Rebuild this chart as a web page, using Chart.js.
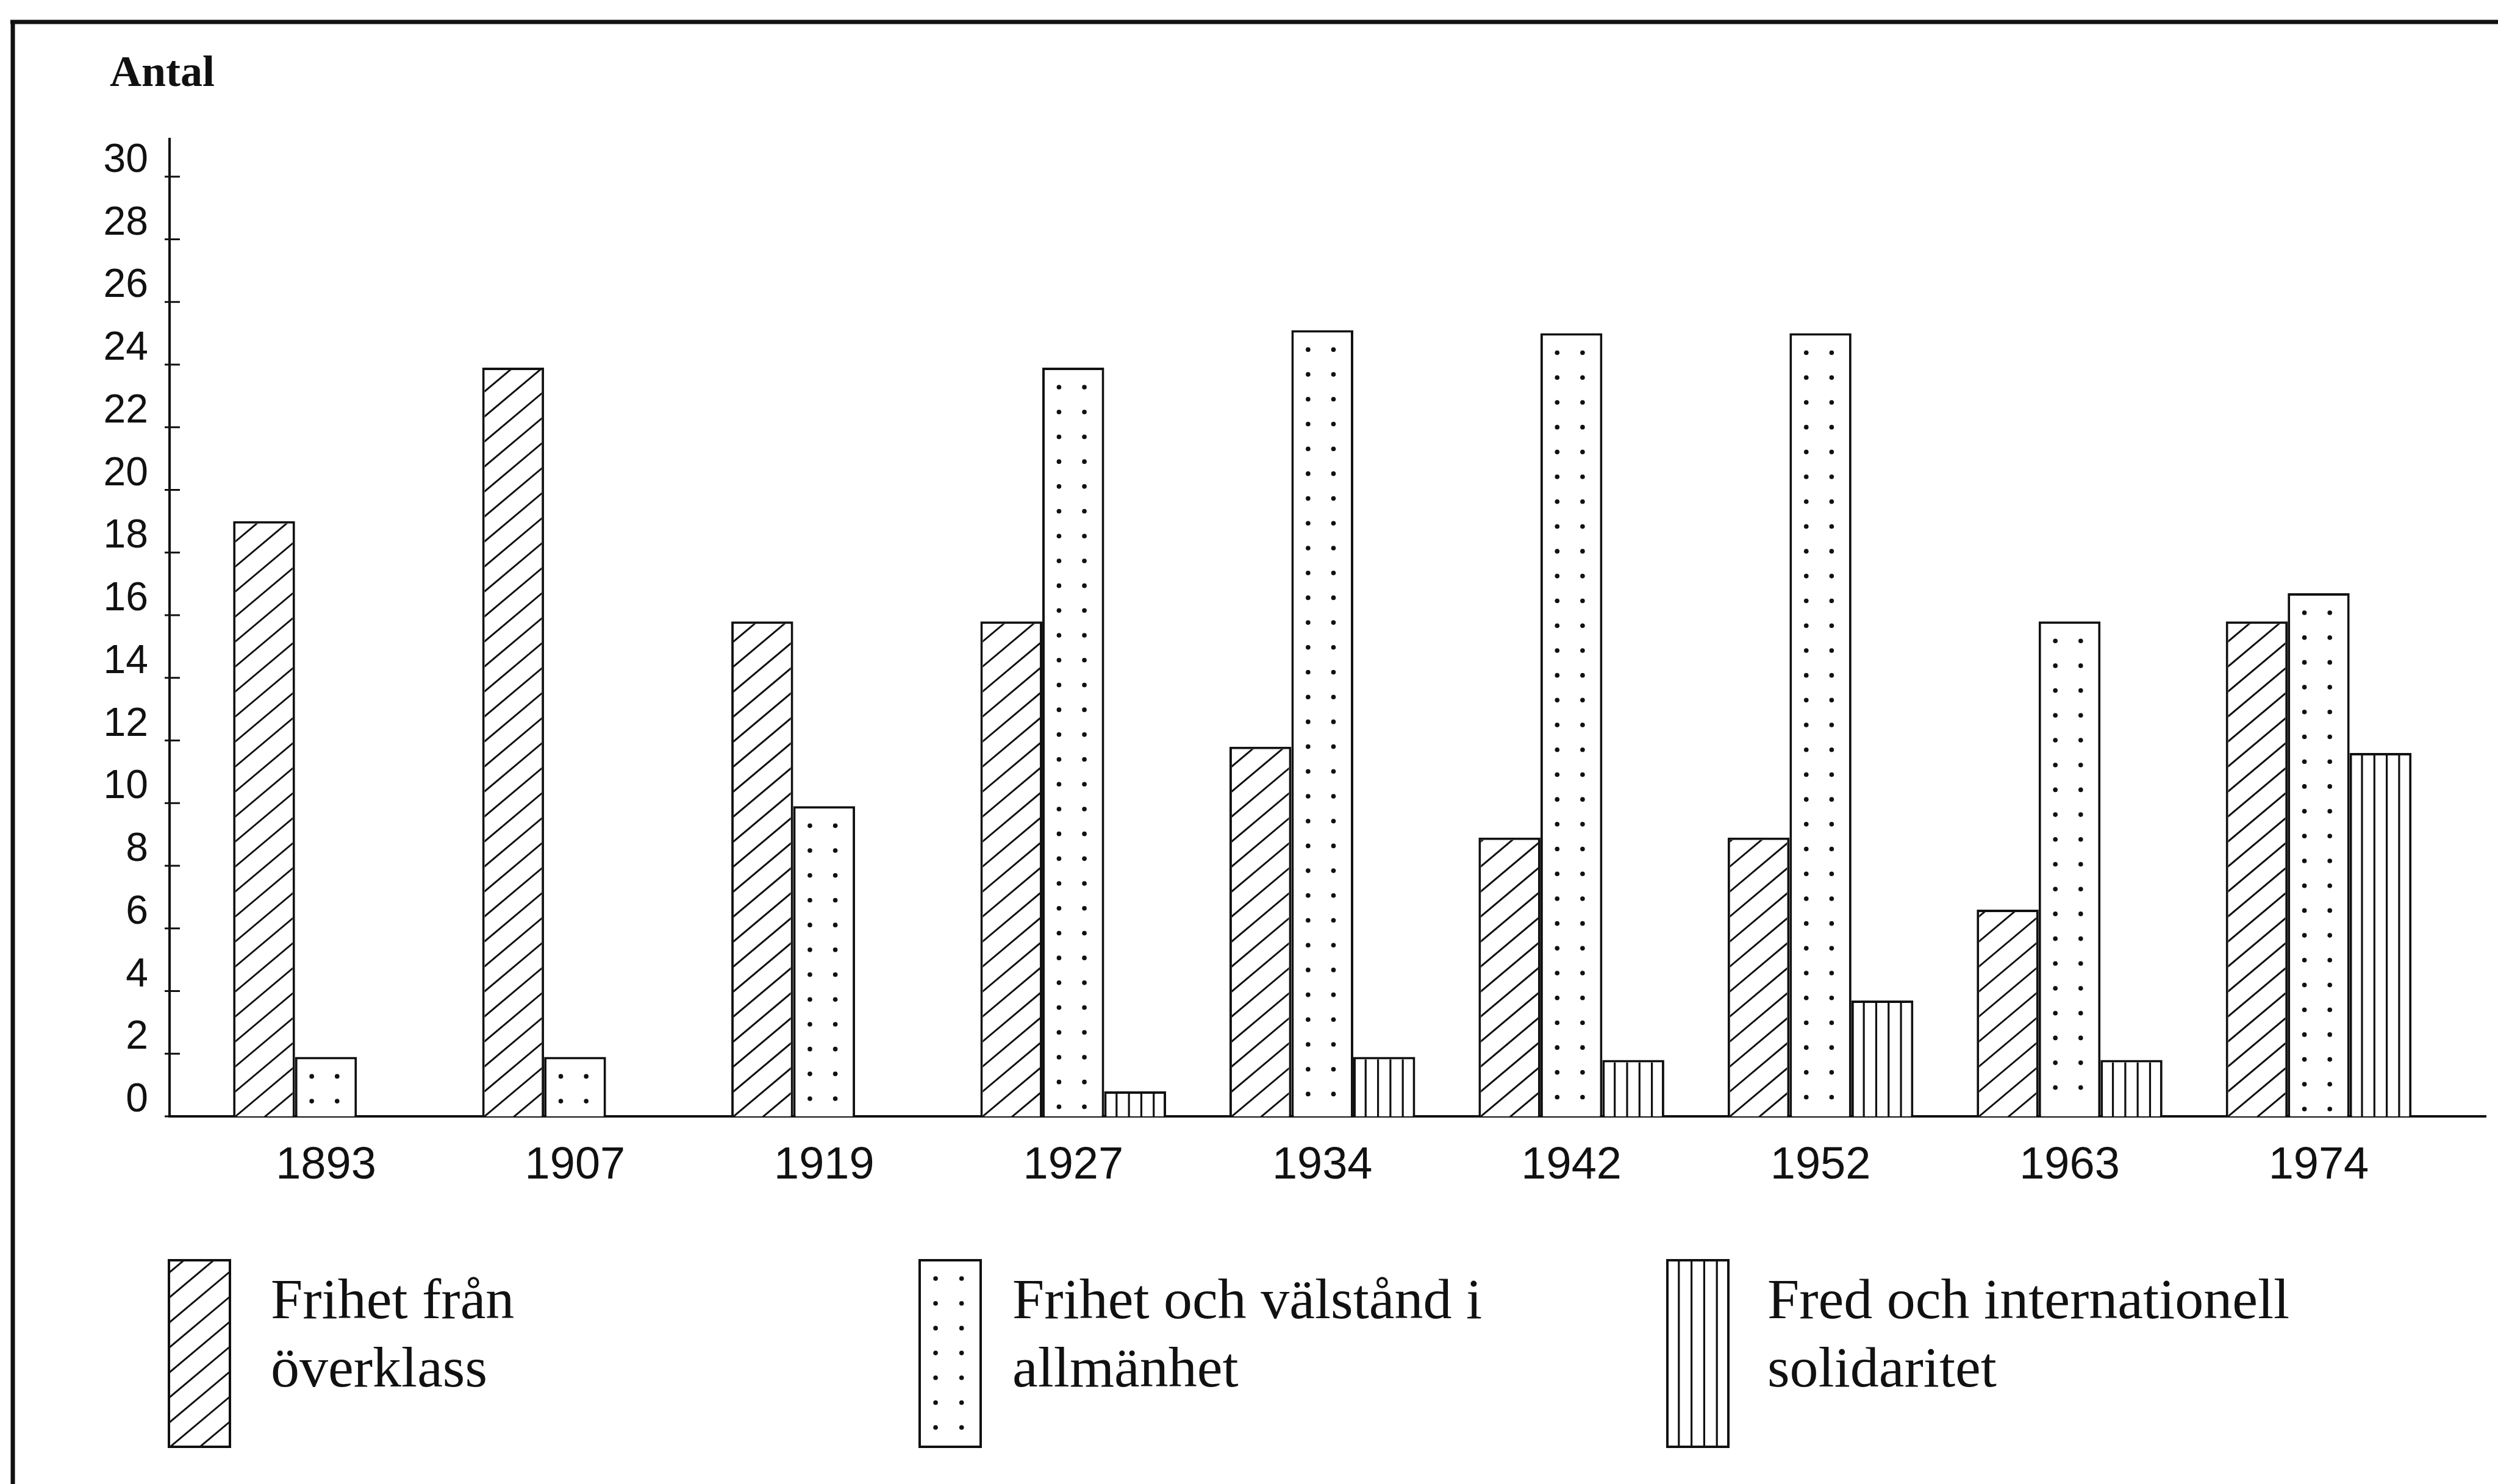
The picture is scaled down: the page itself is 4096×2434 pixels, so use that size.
<!DOCTYPE html>
<html>
<head>
<meta charset="utf-8">
<script src="https://cdn.jsdelivr.net/npm/chart.js@4.4.1/dist/chart.umd.min.js"></script>
<style>
  html, body { margin: 0; padding: 0; background: #fff; }
  #wrap { width: 4096px; height: 2434px; position: relative; }
</style>
</head>
<body>
<div id="wrap"><canvas id="chart"></canvas></div>
<script>
// values (Antal per year)
const years = ['1893', '1907', '1919', '1927', '1934', '1942', '1952', '1963', '1974'];
const fromUpperClass = [19, 23.9, 15.8, 15.8, 11.8, 8.9, 8.9, 6.6, 15.8];
const welfare = [1.9, 1.9, 9.9, 23.9, 25.1, 25, 25, 15.8, 16.7];
const peace = [null, null, null, 0.8, 1.9, 1.8, 3.7, 1.8, 11.6];
const seriesNames = [
    ['Frihet från', 'överklass'],
    ['Frihet och välstånd i', 'allmänhet'],
    ['Fred och internationell', 'solidaritet']
];

const INK = '#111';
const BORDER = 4;

// fill styles, all drawn inside a bar's outer rect (l, t, r, b)
function fillHatch(ctx, l, t, r, b) {
    const gap = 41, slope = 0.84, w = r - l;
    ctx.lineWidth = 3;
    ctx.beginPath();
    for (let y0 = b + w * slope + gap; y0 > t - gap; y0 -= gap) {
        ctx.moveTo(l, y0);
        ctx.lineTo(r, y0 - w * slope);
    }
    ctx.stroke();
}

function fillDots(ctx, l, t, r, b) {
    const w = r - l;
    const cols = [l + 0.27 * w, l + 0.68 * w];
    for (let y = t + 32; y < b - 8; y += 40.7) {
        cols.forEach(x => {
            ctx.beginPath();
            ctx.arc(x, y, 3.8, 0, Math.PI * 2);
            ctx.fill();
        });
    }
}

function fillLines(ctx, l, t, r, b) {
    const w = r - l;
    ctx.lineWidth = 3.2;
    ctx.beginPath();
    for (let k = 1; k < 5; k++) {
        const x = l + k * w / 5;
        ctx.moveTo(x, t);
        ctx.lineTo(x, b);
    }
    ctx.stroke();
}

const fills = [fillHatch, fillDots, fillLines];

function drawFill(ctx, i, l, t, r, b) {
    ctx.save();
    ctx.beginPath();
    ctx.rect(l + BORDER, t + BORDER, r - l - 2 * BORDER, b - t - BORDER);
    ctx.clip();
    ctx.strokeStyle = INK;
    ctx.fillStyle = INK;
    fills[i](ctx, l, t, r, b);
    ctx.restore();
}

const barPatterns = {
    id: 'barPatterns',
    afterDatasetsDraw(chart) {
        const ctx = chart.ctx;
        chart.data.datasets.forEach((ds, di) => {
            const meta = chart.getDatasetMeta(di);
            meta.data.forEach((bar, i) => {
                if (ds.data[i].y == null) return;
                const p = bar.getProps(['x', 'y', 'base', 'width'], true);
                drawFill(ctx, di, p.x - p.width / 2, p.y, p.x + p.width / 2, p.base);
            });
        });
    }
};

const decorations = {
    id: 'decorations',
    afterDraw(chart) {
        const ctx = chart.ctx;
        const y = chart.scales.y;
        ctx.save();
        ctx.strokeStyle = INK;
        ctx.fillStyle = INK;

        // frame at top and left
        ctx.lineWidth = 7;
        ctx.beginPath();
        ctx.moveTo(17, 36);
        ctx.lineTo(chart.width, 36);
        ctx.moveTo(21, 33);
        ctx.lineTo(21, chart.height);
        ctx.stroke();

        // tick marks crossing the y axis
        ctx.lineWidth = 3;
        ctx.beginPath();
        y.ticks.forEach(t => {
            const py = y.getPixelForValue(t.value);
            ctx.moveTo(y.right - 8, py);
            ctx.lineTo(y.right + 17, py);
        });
        ctx.stroke();

        ctx.font = 'bold 72px "Liberation Serif"';
        ctx.textBaseline = 'middle';
        ctx.textAlign = 'left';
        ctx.fillText('Antal', 180, 122);

        // legend
        const boxLeft = [275, 1506, 2732];
        const textLeft = [444, 1660, 2898];
        const boxTop = 2065, boxW = 104, boxH = 310;
        seriesNames.forEach((lines, i) => {
            ctx.fillStyle = '#fff';
            ctx.fillRect(boxLeft[i], boxTop, boxW, boxH);
            drawFill(ctx, i, boxLeft[i], boxTop, boxLeft[i] + boxW, boxTop + boxH - BORDER);
            ctx.lineWidth = BORDER;
            ctx.strokeStyle = INK;
            ctx.strokeRect(boxLeft[i] + BORDER / 2, boxTop + BORDER / 2, boxW - BORDER, boxH - BORDER);
            ctx.fillStyle = INK;
            ctx.font = '94px "Liberation Serif"';
            lines.forEach((s, k) => ctx.fillText(s, textLeft[i], 2137 + k * 112));
        });
        ctx.restore();
    }
};

function points(values) {
    return values.map((v, i) => ({ x: i, y: v }));
}

const barStyle = {
    backgroundColor: '#fff',
    borderColor: INK,
    borderWidth: BORDER,
    categoryPercentage: 0.7456,
    barPercentage: 1
};

new Chart(document.getElementById('chart'), {
    type: 'bar',
    data: {
        datasets: [
            { label: seriesNames[0].join(' '), data: points(fromUpperClass), ...barStyle },
            { label: seriesNames[1].join(' '), data: points(welfare), ...barStyle },
            { label: seriesNames[2].join(' '), data: points(peace), ...barStyle }
        ]
    },
    options: {
        responsive: true,
        maintainAspectRatio: false,
        animation: false,
        layout: { padding: { left: 0, right: 20, top: 228, bottom: 403 } },
        plugins: {
            legend: { display: false },
            tooltip: { enabled: false }
        },
        scales: {
            x: {
                type: 'linear',
                offset: false,
                min: -0.628,
                max: 8.671,
                z: 1,
                afterBuildTicks: s => { s.ticks = years.map((_, i) => ({ value: i })); },
                afterFit: s => { s.height = 200; },
                grid: { display: false },
                border: { display: true, color: INK, width: 4 },
                ticks: {
                    autoSkip: false,
                    maxRotation: 0,
                    padding: 29,
                    color: INK,
                    font: { family: '"Liberation Sans"', size: 74 },
                    callback: v => years[v]
                }
            },
            y: {
                min: 0,
                max: 31.2,
                afterFit: s => { s.width = 278; },
                grid: { display: false, drawTicks: false },
                border: { display: true, color: INK, width: 4 },
                ticks: {
                    stepSize: 2,
                    includeBounds: false,
                    padding: 35,
                    labelOffset: -26,
                    color: INK,
                    font: { family: '"Liberation Sans"', size: 66 }
                }
            }
        }
    },
    plugins: [barPatterns, decorations]
});
</script>
</body>
</html>
